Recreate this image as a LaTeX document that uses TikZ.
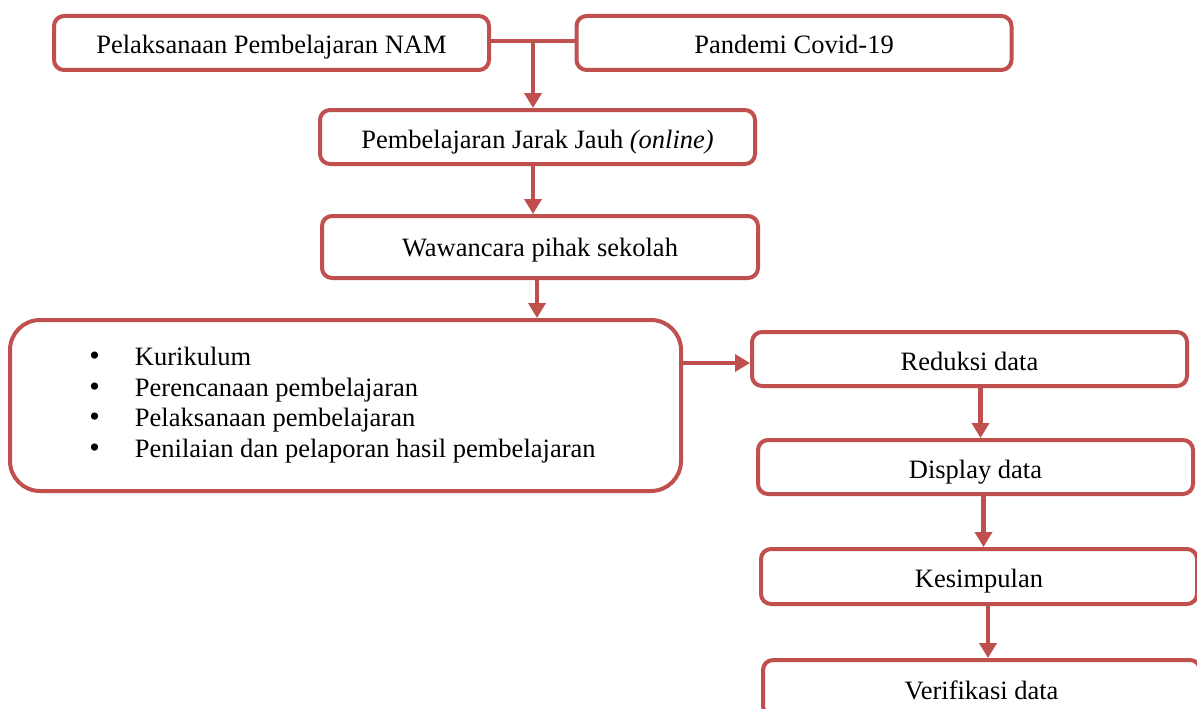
\documentclass[tikz,border=0pt]{standalone}
\usepackage{fontspec}
\setmainfont{Liberation Serif}
\usetikzlibrary{arrows.meta}
\definecolor{merah}{RGB}{192,80,77}
\newcommand{\titik}{{\fontsize{30}{30}\selectfont\textbullet}}
\begin{document}
\begin{tikzpicture}
  [x=1pt,y=-1pt,font=\fontsize{26.5}{30.5}\selectfont,
   kotak/.style={draw=merah,line width=4pt,rounded corners=10pt,
     minimum width=435pt,minimum height=54pt,inner sep=0pt,
     text height=23pt,text depth=1pt},
   panah/.style={draw=merah,line width=4.5pt,-{Triangle[width=17pt,length=15pt]}}]
  \useasboundingbox (0,0) rectangle (1197,709);
  \clip (0,0) rectangle (1197,709);
  \node (nam)[kotak] at (271.5,43) {Pelaksanaan Pembelajaran NAM};
  \node (covid)[kotak] at (794,43) {Pandemi Covid-19};
  \node (pjj)[kotak] at (537.5,137) {Pembelajaran Jarak Jauh \textit{(online)}};
  \node (wawancara)[kotak,minimum width=436pt,minimum height=62pt,text height=20pt] at (540,247) {Wawancara pihak sekolah};
  \node (aspek)[kotak,rounded corners=30pt,minimum width=671pt,minimum height=171pt,
    text height=,text depth=] at (345.5,405.5)
    {\begin{tabular}{@{}l@{\hspace{35pt}}l@{\hspace{6pt}}}
      \titik & Kurikulum\\
      \titik & Perencanaan pembelajaran\\
      \titik & Pelaksanaan pembelajaran\\
      \titik & Penilaian dan pelaporan hasil pembelajaran
    \end{tabular}};
  \node (reduksi)[kotak] at (969.5,359) {Reduksi data};
  \node (display)[kotak] at (975.5,467) {Display data};
  \node (simpulan)[kotak,minimum width=436pt,minimum height=55pt] at (979,576.5) {Kesimpulan};
  \node (verifikasi)[kotak,minimum width=437pt,minimum height=56pt] at (981.5,688) {Verifikasi data};
  % sambungan
  \coordinate (jn) at (533,41);
  \draw[draw=merah,line width=4pt] (jn -| nam.east) -- (jn -| covid.west);
  \draw[panah] (jn) -- (jn |- pjj.north);
  \draw[panah] (jn |- pjj.south) -- (jn |- wawancara.north);
  \draw[panah] ([xshift=-3pt]wawancara.south) -- ([xshift=-3pt]wawancara.south |- aspek.north);
  \draw[panah] ([yshift=-4pt]aspek.east |- reduksi.west) -- ([yshift=-4pt]reduksi.west);
  \foreach \from/\to/\dx in {reduksi/display/11,display/simpulan/8,simpulan/verifikasi/9}
    \draw[panah] ([xshift=\dx pt]\from.south) -- ([xshift=\dx pt]\from.south |- \to.north);
\end{tikzpicture}
\end{document}
